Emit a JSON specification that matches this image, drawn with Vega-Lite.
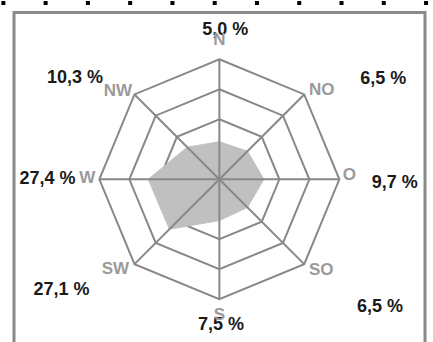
{
  "$schema": "https://vega.github.io/schema/vega-lite/v6.json",
  "width": 411,
  "height": 340,
  "autosize": {"type": "none"},
  "padding": {"left": 14, "top": 12.5, "right": 8, "bottom": 0},
  "background": "white",
  "config": {
    "view": {"stroke": "#8a8a8a", "strokeWidth": 3},
    "text": {"font": "Liberation Sans, Arial, sans-serif", "fontWeight": "bold", "align": "center", "baseline": "middle"}
  },
  "data": {
    "values": [
      {"dir": "N", "value": 5.0, "label": "5,0 %"},
      {"dir": "NO", "value": 6.5, "label": "6,5 %"},
      {"dir": "O", "value": 9.7, "label": "9,7 %"},
      {"dir": "SO", "value": 6.5, "label": "6,5 %"},
      {"dir": "S", "value": 7.5, "label": "7,5 %"},
      {"dir": "SW", "value": 27.1, "label": "27,1 %"},
      {"dir": "W", "value": 27.4, "label": "27,4 %"},
      {"dir": "NW", "value": 10.3, "label": "10,3 %"}
    ]
  },
  "transform": [
    {"calculate": "indexof(['N','NO','O','SO','S','SW','W','NW'], datum.dir)", "as": "idx"},
    {"calculate": "datum.idx * PI / 4", "as": "ang"},
    {"calculate": "(datum.value + 20) * sin(datum.ang)", "as": "px"},
    {"calculate": "(datum.value + 20) * cos(datum.ang)", "as": "py"},
    {"calculate": "80 * sin(datum.ang)", "as": "sx"},
    {"calculate": "80 * cos(datum.ang)", "as": "sy"},
    {"calculate": "90 * sin(datum.ang)", "as": "lx"},
    {"calculate": "90 * cos(datum.ang)", "as": "ly"}
  ],
  "encoding": {
    "x": {"type": "quantitative", "scale": {"domain": [-136.9, 137.1], "nice": false, "zero": false}, "axis": null},
    "y": {"type": "quantitative", "scale": {"domain": [-115.5, 111.2], "nice": false, "zero": false}, "axis": null}
  },
  "layer": [
    {
      "transform": [
        {"calculate": "[20, 40, 60]", "as": "lv"},
        {"flatten": ["lv"]},
        {"calculate": "(datum.lv + 20) * sin(datum.ang)", "as": "rx"},
        {"calculate": "(datum.lv + 20) * cos(datum.ang)", "as": "ry"}
      ],
      "mark": {"type": "line", "interpolate": "linear-closed", "stroke": "#888888", "strokeWidth": 2},
      "encoding": {
        "x": {"field": "rx", "type": "quantitative"},
        "y": {"field": "ry", "type": "quantitative"},
        "detail": {"field": "lv"},
        "order": {"field": "idx"}
      }
    },
    {
      "mark": {"type": "line", "interpolate": "linear-closed", "fill": "#c0c0c0", "stroke": "#c0c0c0", "strokeWidth": 1},
      "encoding": {
        "x": {"field": "px", "type": "quantitative"},
        "y": {"field": "py", "type": "quantitative"},
        "order": {"field": "idx"}
      }
    },
    {
      "mark": {"type": "rule", "stroke": "#888888", "strokeWidth": 2},
      "encoding": {
        "x": {"field": "sx", "type": "quantitative"},
        "y": {"field": "sy", "type": "quantitative"},
        "x2": {"datum": 0},
        "y2": {"datum": 0}
      }
    },
    {
      "data": {"values": [{"edge": "top"}]},
      "mark": {"type": "rule", "stroke": "#000000", "strokeWidth": 4, "strokeDash": [4, 38.27], "strokeCap": "butt", "clip": false},
      "encoding": {
        "x": {"datum": -145.33},
        "x2": {"datum": 139.2},
        "y": {"datum": 117.5}
      }
    },
    {"transform": [{"filter": "datum.dir === 'N'"}], "mark": {"type": "text", "dx": 6, "dy": -14, "fontSize": 18, "color": "#1a1a1a"}, "encoding": {"x": {"field": "lx"}, "y": {"field": "ly"}, "text": {"field": "label"}}},
    {"transform": [{"filter": "datum.dir === 'NO'"}], "mark": {"type": "text", "dx": 68.5, "dy": -4.6, "fontSize": 18, "color": "#1a1a1a"}, "encoding": {"x": {"field": "lx"}, "y": {"field": "ly"}, "text": {"field": "label"}}},
    {"transform": [{"filter": "datum.dir === 'O'"}], "mark": {"type": "text", "dx": 40.4, "dy": 4.2, "fontSize": 18, "color": "#1a1a1a"}, "encoding": {"x": {"field": "lx"}, "y": {"field": "ly"}, "text": {"field": "label"}}},
    {"transform": [{"filter": "datum.dir === 'SO'"}], "mark": {"type": "text", "dx": 65.2, "dy": 32.7, "fontSize": 18, "color": "#1a1a1a"}, "encoding": {"x": {"field": "lx"}, "y": {"field": "ly"}, "text": {"field": "label"}}},
    {"transform": [{"filter": "datum.dir === 'S'"}], "mark": {"type": "text", "dx": 1.7, "dy": 11.2, "fontSize": 18, "color": "#1a1a1a"}, "encoding": {"x": {"field": "lx"}, "y": {"field": "ly"}, "text": {"field": "label"}}},
    {"transform": [{"filter": "datum.dir === 'SW'"}], "mark": {"type": "text", "dx": -62.3, "dy": 15.2, "fontSize": 18, "color": "#1a1a1a"}, "encoding": {"x": {"field": "lx"}, "y": {"field": "ly"}, "text": {"field": "label"}}},
    {"transform": [{"filter": "datum.dir === 'W'"}], "mark": {"type": "text", "dx": -36.8, "dy": 0, "fontSize": 18, "color": "#1a1a1a"}, "encoding": {"x": {"field": "lx"}, "y": {"field": "ly"}, "text": {"field": "label"}}},
    {"transform": [{"filter": "datum.dir === 'NW'"}], "mark": {"type": "text", "dx": -48.8, "dy": -6.3, "fontSize": 18, "color": "#1a1a1a"}, "encoding": {"x": {"field": "lx"}, "y": {"field": "ly"}, "text": {"field": "label"}}},
    {"transform": [{"filter": "datum.dir === 'N'"}], "mark": {"type": "text", "dx": 0, "dy": -4, "fontSize": 17, "color": "#9a9a9a"}, "encoding": {"x": {"field": "lx"}, "y": {"field": "ly"}, "text": {"field": "dir"}}},
    {"transform": [{"filter": "datum.dir === 'NO'"}], "mark": {"type": "text", "dx": 7, "dy": 6, "fontSize": 17, "color": "#9a9a9a"}, "encoding": {"x": {"field": "lx"}, "y": {"field": "ly"}, "text": {"field": "dir"}}},
    {"transform": [{"filter": "datum.dir === 'O'"}], "mark": {"type": "text", "dx": -5, "dy": -4, "fontSize": 17, "color": "#9a9a9a"}, "encoding": {"x": {"field": "lx"}, "y": {"field": "ly"}, "text": {"field": "dir"}}},
    {"transform": [{"filter": "datum.dir === 'SO'"}], "mark": {"type": "text", "dx": 6.4, "dy": -5, "fontSize": 17, "color": "#9a9a9a"}, "encoding": {"x": {"field": "lx"}, "y": {"field": "ly"}, "text": {"field": "dir"}}},
    {"transform": [{"filter": "datum.dir === 'S'"}], "mark": {"type": "text", "dx": 0, "dy": 1, "fontSize": 17, "color": "#9a9a9a"}, "encoding": {"x": {"field": "lx"}, "y": {"field": "ly"}, "text": {"field": "dir"}}},
    {"transform": [{"filter": "datum.dir === 'SW'"}], "mark": {"type": "text", "dx": -8.5, "dy": -5.6, "fontSize": 17, "color": "#9a9a9a"}, "encoding": {"x": {"field": "lx"}, "y": {"field": "ly"}, "text": {"field": "dir"}}},
    {"transform": [{"filter": "datum.dir === 'W'"}], "mark": {"type": "text", "dx": 3, "dy": -1, "fontSize": 17, "color": "#9a9a9a"}, "encoding": {"x": {"field": "lx"}, "y": {"field": "ly"}, "text": {"field": "dir"}}},
    {"transform": [{"filter": "datum.dir === 'NW'"}], "mark": {"type": "text", "dx": -6, "dy": 7, "fontSize": 17, "color": "#9a9a9a"}, "encoding": {"x": {"field": "lx"}, "y": {"field": "ly"}, "text": {"field": "dir"}}}
  ]
}
